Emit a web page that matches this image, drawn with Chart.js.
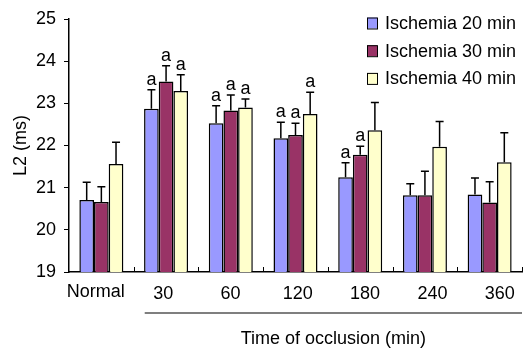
<!DOCTYPE html>
<html>
<head>
<meta charset="utf-8">
<script src="https://cdn.jsdelivr.net/npm/chart.js@4.4.0/dist/chart.umd.min.js"></script>
<style>
    html, body { margin: 0; padding: 0; background: #fff; }
    #wrap { width: 525px; height: 349px; position: relative; }
</style>
</head>
<body>
<div id="wrap"><canvas id="chart"></canvas></div>
<script>
// Datos
const categorias = ['Normal', '30', '60', '120', '180', '240', '360'];
const etiquetas = ['Ischemia 20 min', 'Ischemia 30 min', 'Ischemia 40 min'];
const isq20 = [20.71, 22.87, 22.53, 22.17, 21.25, 20.82, 20.84];
const isq30 = [20.66, 23.52, 22.83, 22.25, 21.78, 20.82, 20.65];
const isq40 = [21.56, 23.29, 22.90, 22.75, 22.36, 21.97, 21.60];
const sd20 = [0.42, 0.45, 0.41, 0.38, 0.34, 0.27, 0.39];
const sd30 = [0.36, 0.37, 0.37, 0.28, 0.20, 0.57, 0.49];
const sd40 = [0.52, 0.39, 0.20, 0.51, 0.66, 0.60, 0.70];
// 'a' = diferencia significativa
const sig20 = [0, 1, 1, 1, 1, 0, 0];
const sig30 = [0, 1, 1, 1, 1, 0, 0];
const sig40 = [0, 1, 1, 1, 0, 0, 0];
const yTicks = [19, 20, 21, 22, 23, 24, 25];
const tituloX = 'Time of occlusion (min)';
const tituloY = 'L2 (ms)';

const colores = ['#9999ff', '#993366', '#ffffcc'];
const fuente = "'Liberation Sans', Arial, sans-serif";

// Barras de error, letras, etiquetas X, leyenda y título del eje X
const extras = {
    id: 'extras',
    afterDatasetsDraw(chart) {
        const ctx = chart.ctx;
        const area = chart.chartArea;
        const y = chart.scales.y;
        const xs = chart.scales.x;
        const sds = [sd20, sd30, sd40];
        const sigs = [sig20, sig30, sig40];

        ctx.save();
        ctx.strokeStyle = '#000';
        ctx.lineWidth = 1.5;
        ctx.fillStyle = '#000';
        ctx.font = '18px ' + fuente;
        ctx.textAlign = 'center';
        ctx.textBaseline = 'alphabetic';

        chart.data.datasets.forEach((ds, d) => {
            const meta = chart.getDatasetMeta(d);
            meta.data.forEach((bar, i) => {
                const top = y.getPixelForValue(ds.data[i] + sds[d][i]);
                ctx.beginPath();
                ctx.moveTo(bar.x, bar.y);
                ctx.lineTo(bar.x, top);
                ctx.moveTo(bar.x - 4, top);
                ctx.lineTo(bar.x + 4, top);
                ctx.stroke();
                if (sigs[d][i]) ctx.fillText('a', bar.x, top - 5);
            });
        });

        // marcas del eje X hacia arriba
        const ancho = (area.right - area.left) / categorias.length;
        ctx.lineWidth = 1;
        for (let i = 1; i <= categorias.length; i++) {
            const x = Math.round(area.left + i * ancho) + 0.5;
            ctx.beginPath();
            ctx.moveTo(x, area.bottom);
            ctx.lineTo(x, area.bottom - 5);
            ctx.stroke();
        }

        // etiquetas de categoría (en el original algo más espaciadas que los grupos)
        ctx.font = '18px ' + fuente;
        categorias.forEach((c, i) => {
            const x = xs.getPixelForValue(i) - 5.5 + 2.6 * i;
            ctx.fillText(c, x, i === 0 ? 297 : 299);
        });

        // línea y título bajo los tiempos
        const x1 = area.left + ancho + 11;
        ctx.lineWidth = 1.2;
        ctx.beginPath();
        ctx.moveTo(x1, 313);
        ctx.lineTo(area.right, 313);
        ctx.stroke();
        ctx.font = '18px ' + fuente;
        ctx.fillText(tituloX, (x1 + area.right) / 2, 344);

        // leyenda
        ctx.font = '18px ' + fuente;
        ctx.textAlign = 'left';
        ctx.textBaseline = 'middle';
        etiquetas.forEach((t, k) => {
            const cy = 23 + k * 27.7;
            ctx.fillStyle = colores[k];
            ctx.fillRect(367, cy - 5.5, 10, 11);
            ctx.lineWidth = 1;
            ctx.strokeRect(367.5, cy - 5, 10, 11);
            ctx.fillStyle = '#000';
            ctx.fillText(t, 385, cy + 1);
        });
        ctx.restore();
    }
};

new Chart(document.getElementById('chart'), {
    type: 'bar',
    data: {
        labels: categorias,
        datasets: [isq20, isq30, isq40].map((v, k) => ({
            label: etiquetas[k],
            data: v,
            backgroundColor: colores[k],
            borderColor: '#000',
            borderWidth: 1.5,
            categoryPercentage: 0.68,
            barPercentage: 1
        }))
    },
    options: {
        responsive: true,
        maintainAspectRatio: false,
        animation: false,
        layout: { padding: { left: 0, right: 3, top: 19, bottom: 0 } },
        plugins: {
            legend: { display: false },
            tooltip: { enabled: false }
        },
        scales: {
            x: {
                grid: { display: false },
                border: { color: '#000', width: 1.5 },
                ticks: { display: false },
                afterFit(scale) { scale.height = 77; }
            },
            y: {
                min: 19,
                max: 25,
                afterBuildTicks(scale) { scale.ticks = yTicks.map(v => ({ value: v })); },
                grid: {
                    drawOnChartArea: false,
                    drawTicks: true,
                    tickLength: 5,
                    color: '#000',
                    lineWidth: 1
                },
                border: { color: '#000', width: 1.5 },
                ticks: {
                    color: '#000',
                    padding: 8,
                    font: { family: fuente, size: 18 }
                },
                title: {
                    display: true,
                    text: tituloY,
                    color: '#000',
                    padding: { top: 10, bottom: 0 },
                    font: { family: fuente, size: 18 }
                },
                afterFit(scale) { scale.width = 69; }
            }
        }
    },
    plugins: [extras]
});
</script>
</body>
</html>
